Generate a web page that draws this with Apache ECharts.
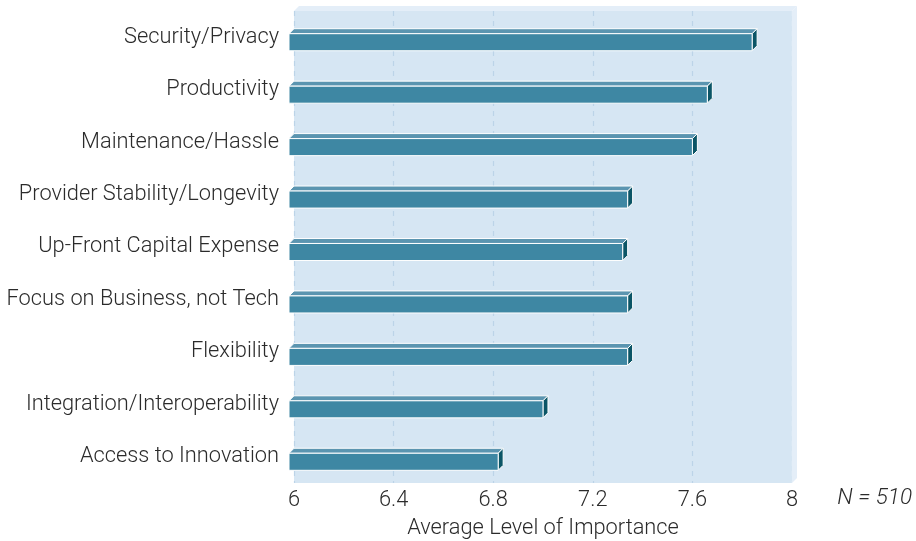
<!DOCTYPE html>
<html>
<head>
<meta charset="utf-8">
<title>Average Level of Importance</title>
<script src="https://cdn.jsdelivr.net/npm/echarts@6/dist/echarts.min.js"></script>
<style>
  html, body { margin: 0; padding: 0; background: #ffffff; }
  #chart { width: 916px; height: 541px; }
</style>
</head>
<body>
<div id="chart"></div>
<script>
// Survey factors, listed top to bottom
const categories = [
  'Security/Privacy',
  'Productivity',
  'Maintenance/Hassle',
  'Provider Stability/Longevity',
  'Up-Front Capital Expense',
  'Focus on Business, not Tech',
  'Flexibility',
  'Integration/Interoperability',
  'Access to Innovation'
];
// Average importance score for each factor
const importance = [7.86, 7.68, 7.62, 7.36, 7.34, 7.36, 7.36, 7.02, 6.84];
const axisMin = 6;
const axisMax = 8;
const axisStep = 0.4;
const sampleNote = 'N = 510';

const FONT = 'Roboto, "Liberation Sans", sans-serif';
const TEXT = '#2b2b2b';
const FS = 21.8;
const DEPTH = 5;          // pixel offset of the extruded (back) planes
const BAR_FRONT = '#3e87a3';
const BAR_TOP = '#5b95b0';
const BAR_SIDE = '#0b5566';
const WALL = '#d6e6f3';
const WALL_EDGE = '#e4eef8';

const chart = echarts.init(document.getElementById('chart'), null, { renderer: 'canvas' });

// Top and right edges of the back wall slab
function renderWall(params, api) {
  const r = params.coordSys;
  const x0 = r.x, y0 = r.y, x1 = r.x + r.width, y1 = r.y + r.height;
  return {
    type: 'group',
    children: [
      {
        type: 'polygon',
        shape: { points: [[x0, y0], [x1, y0], [x1 + DEPTH, y0 - DEPTH], [x0 + DEPTH, y0 - DEPTH]] },
        style: { fill: WALL_EDGE }
      },
      {
        type: 'polygon',
        shape: { points: [[x1, y0], [x1 + DEPTH, y0 - DEPTH], [x1 + DEPTH, y1 - DEPTH], [x1, y1]] },
        style: { fill: WALL_EDGE }
      }
    ]
  };
}

// Extruded horizontal bar: front face, top face and right side face
function renderBar(params, api) {
  const value = api.value(0);
  const idx = api.value(1);
  const start = api.coord([axisMin, idx]);
  const end = api.coord([value, idx]);
  const band = api.size([0, 1])[1];
  const h = band * 0.325;
  const x0 = start[0] - DEPTH;
  const x1 = end[0] - DEPTH;
  const cy = end[1] + DEPTH;
  const yt = cy - h / 2;
  const yb = cy + h / 2;
  const stroke = { stroke: '#ffffff', lineWidth: 1, lineJoin: 'round' };
  return {
    type: 'group',
    children: [
      {
        type: 'polygon',
        shape: { points: [[x0, yt], [x1, yt], [x1 + DEPTH, yt - DEPTH], [x0 + DEPTH, yt - DEPTH]] },
        style: Object.assign({ fill: BAR_TOP }, stroke)
      },
      {
        type: 'polygon',
        shape: { points: [[x1, yt], [x1 + DEPTH, yt - DEPTH], [x1 + DEPTH, yb - DEPTH], [x1, yb]] },
        style: Object.assign({ fill: BAR_SIDE }, stroke)
      },
      {
        type: 'rect',
        shape: { x: x0, y: yt, width: x1 - x0, height: h },
        style: Object.assign({ fill: BAR_FRONT }, stroke)
      }
    ]
  };
}

const option = {
  animation: false,
  grid: {
    left: 294,
    right: 124,
    top: 11,
    bottom: 58,
    outerBoundsMode: 'none',
    containLabel: false,
    show: true,
    backgroundColor: WALL,
    borderWidth: 0
  },
  xAxis: {
    type: 'value',
    min: axisMin,
    max: axisMax,
    interval: axisStep,
    name: 'Average Level of Importance',
    nameLocation: 'middle',
    nameGap: 35,
    nameTextStyle: { fontFamily: FONT, fontSize: FS, color: TEXT, fontWeight: 300 },
    axisLine: { show: false },
    axisTick: { show: false },
    axisLabel: {
      margin: 7,
      fontFamily: FONT,
      fontSize: FS,
      color: TEXT,
      fontWeight: 300
    },
    splitLine: {
      show: true,
      lineStyle: {
        color: ['#bcd4e8', '#bcd4e8', '#bcd4e8', '#bcd4e8', '#bcd4e8', '#ffffff'],
        type: [5, 5],
        width: 1.2
      }
    }
  },
  yAxis: {
    type: 'category',
    data: categories,
    inverse: true,
    axisLine: { show: false },
    axisTick: { show: false },
    splitLine: { show: false },
    axisLabel: {
      margin: 15,
      fontFamily: FONT,
      fontSize: FS,
      color: TEXT,
      fontWeight: 300
    }
  },
  graphic: [
    {
      type: 'text',
      right: 4,
      top: 487,
      style: {
        text: sampleNote,
        fontFamily: FONT,
        fontSize: 22.5,
        fontStyle: 'italic',
        fontWeight: 300,
        fill: TEXT
      }
    }
  ],
  series: [
    {
      type: 'custom',
      name: 'wall',
      silent: true,
      z: 1,
      renderItem: renderWall,
      data: [[axisMin, 0]]
    },
    {
      type: 'custom',
      name: 'Average Level of Importance',
      z: 3,
      renderItem: renderBar,
      encode: { x: 0, y: 1 },
      data: importance.map((v, i) => [v, i])
    }
  ]
};

chart.setOption(option);
</script>
</body>
</html>
